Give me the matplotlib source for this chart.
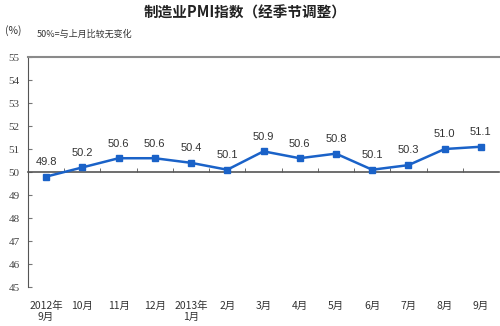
import matplotlib
matplotlib.use("Agg")
import matplotlib.pyplot as plt
from matplotlib.ticker import FixedLocator, MultipleLocator

plt.rcParams["font.family"] = ["Noto Sans CJK SC", "DejaVu Sans"]

# data
months = ["2012年\n9月", "10月", "11月", "12月", "2013年\n1月", "2月", "3月",
          "4月", "5月", "6月", "7月", "8月", "9月"]
pmi = [49.8, 50.2, 50.6, 50.6, 50.4, 50.1, 50.9, 50.6, 50.8, 50.1, 50.3, 51.0, 51.1]

fig = plt.figure(figsize=(5, 3.26), dpi=100)
ax = fig.add_axes([0.056, 0.1196, 0.942, 0.7054])

x = list(range(len(pmi)))
ax.plot(x, pmi, color="#1a62c8", linewidth=1.8, marker="s", markersize=5,
        markerfacecolor="#1a62c8", markeredgecolor="#1a62c8", zorder=3)

for xi, v in zip(x, pmi):
    ax.annotate(f"{v:.1f}", (xi, v), xytext=(0, 7), textcoords="offset points",
                ha="center", va="bottom", fontsize=8, color="#333333",
                family=["Liberation Sans", "DejaVu Sans"])

ax.set_xlim(-0.5, len(pmi) - 0.5)
ax.set_ylim(45, 55)

# spines
ax.spines["right"].set_visible(False)
ax.spines["top"].set_color("#8a8a8a")
ax.spines["top"].set_linewidth(1.5)
ax.spines["left"].set_color("#555555")
ax.spines["bottom"].set_position(("data", 50))
ax.spines["bottom"].set_color("#555555")
ax.spines["bottom"].set_linewidth(1.2)

# x axis: labels at bottom, small up-ticks at boundaries on the 50 line
ax.set_xticks(x)
ax.set_xticklabels(months, fontsize=7.5, color="#333333", linespacing=1.1)
ax.tick_params(axis="x", which="major", length=0, pad=93)
ax.xaxis.set_minor_locator(FixedLocator([i + 0.5 for i in x[:-1]]))
ax.tick_params(axis="x", which="minor", direction="in", length=3,
               color="#555555")

# y axis
ax.yaxis.set_major_locator(MultipleLocator(1))
ax.tick_params(axis="y", direction="in", length=3, color="#777777",
               labelsize=8, labelcolor="#444444", pad=6)
for lbl in ax.get_yticklabels():
    lbl.set_family(["Liberation Serif", "DejaVu Serif"])

fig.text(0.49, 0.962, "制造业PMI指数（经季节调整）", ha="center", va="center",
         fontsize=10.5, fontweight="bold", color="#222222")
fig.text(0.01, 0.905, "(%)", ha="left", va="center", fontsize=7.5,
         color="#333333")
fig.text(0.074, 0.895, "50%=与上月比较无变化", ha="left", va="center",
         fontsize=6.5, color="#333333")

fig.savefig("out.png", dpi=100)
